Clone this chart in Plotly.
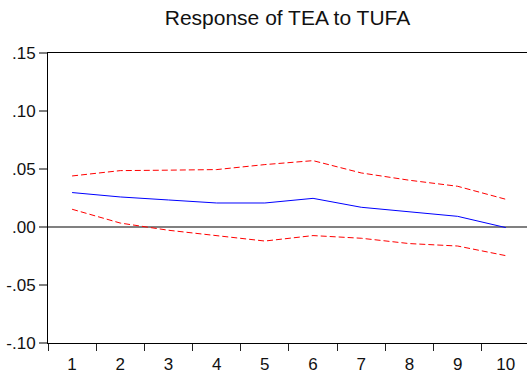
import plotly.graph_objects as go

periods = ["1", "2", "3", "4", "5", "6", "7", "8", "9", "10"]
response = [0.0297, 0.0259, 0.0233, 0.0207, 0.0207, 0.0247, 0.0170, 0.0129, 0.0092, -0.0005]
upper = [0.0440, 0.0486, 0.0490, 0.0495, 0.0538, 0.0572, 0.0466, 0.0403, 0.0351, 0.0239]
lower = [0.0153, 0.0034, -0.0028, -0.0072, -0.0121, -0.0074, -0.0097, -0.0143, -0.0164, -0.0247]
y_tickvals = [-0.10, -0.05, 0.00, 0.05, 0.10, 0.15]
y_ticktext = ["-.10", "-.05", ".00", ".05", ".10", ".15"]
title_text = "Response of TEA to TUFA"

fig = go.Figure()
fig.add_trace(go.Scatter(x=periods, y=upper, mode="lines",
                         line=dict(color="#FF0000", width=1, dash="6px,3px"), showlegend=False))
fig.add_trace(go.Scatter(x=periods, y=lower, mode="lines",
                         line=dict(color="#FF0000", width=1, dash="6px,3px"), showlegend=False))
fig.add_trace(go.Scatter(x=periods, y=response, mode="lines",
                         line=dict(color="#0000FF", width=1), showlegend=False))

font_family = "Liberation Sans, Arial, sans-serif"
fig.update_layout(
    width=527, height=377,
    margin=dict(l=48, r=0, t=53, b=34),
    paper_bgcolor="white", plot_bgcolor="white",
    font=dict(family=font_family, size=17, color="#111111"),
    title=dict(text=title_text, x=(48 + 527) / 2 / 527, xanchor="center",
               y=1 - 18 / 377, yanchor="middle", automargin=False,
               font=dict(family=font_family, size=21, color="#111111")),
    xaxis=dict(type="category", range=[-0.5, 9.44], tickson="boundaries",
               ticks="outside", ticklen=7, tickcolor="#222222", tickwidth=1,
               showline=True, linecolor="black", linewidth=1, mirror=True,
               showgrid=False, zeroline=False, tickfont=dict(size=17),
               ticklabelstandoff=6, automargin=False),
    yaxis=dict(range=[-0.10, 0.15], tickvals=y_tickvals, ticktext=y_ticktext,
               ticks="outside", ticklen=8, tickcolor="#808080", tickwidth=2,
               showline=True, linecolor="black", linewidth=1, mirror=False,
               showgrid=False, zeroline=True, zerolinecolor="#808080", zerolinewidth=2,
               tickfont=dict(size=17), automargin=False),
)
fig.write_html("out.html", config={"displayModeBar": False},
               post_script="document.body.style.margin='0';document.body.style.overflow='hidden';")
